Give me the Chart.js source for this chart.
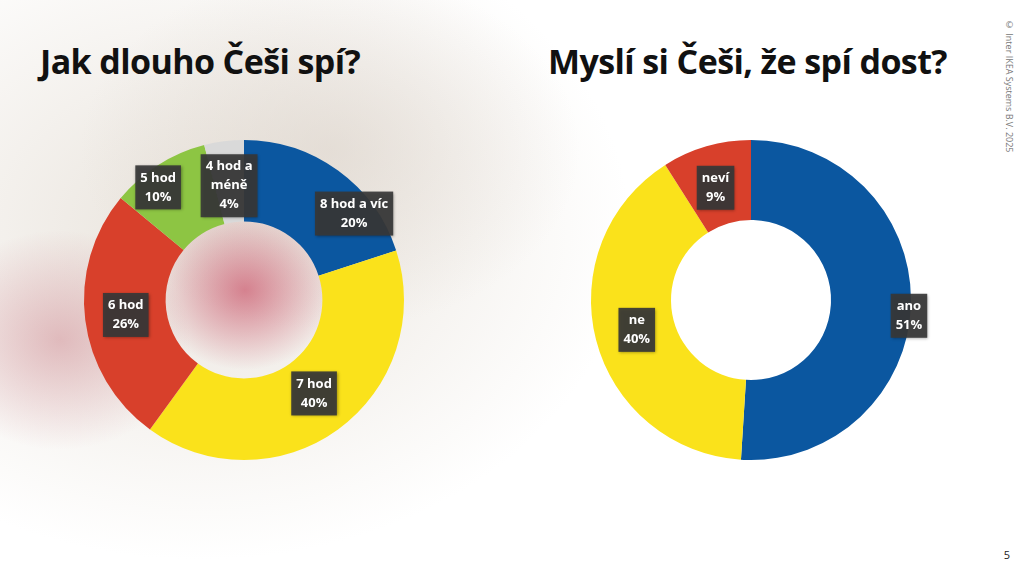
<!DOCTYPE html>
<html><head><meta charset="utf-8">
<script src="https://cdn.jsdelivr.net/npm/chart.js@4"></script>
<style>
body{margin:0;width:1024px;height:576px;overflow:hidden;font-family:"Open Sans",sans-serif;
background:
 radial-gradient(ellipse 90px 80px at 245px 290px, rgba(205,95,115,0.75), rgba(205,95,115,0) 100%),
 radial-gradient(ellipse 130px 110px at 60px 340px, rgba(200,120,130,0.45), rgba(200,120,130,0) 100%),
 radial-gradient(ellipse 250px 180px at 330px 150px, rgba(215,205,195,0.5), rgba(215,205,195,0) 100%),
 radial-gradient(ellipse 430px 330px at 200px 230px, rgba(232,226,218,0.95), rgba(245,243,240,0) 100%),
 #fff;}
.t{position:absolute;top:38px;font-weight:bold;font-size:34px;letter-spacing:-0.6px;color:#111;margin:0}
canvas{position:absolute}
#cp{position:absolute;right:8px;top:18px;writing-mode:vertical-rl;font-size:9px;color:#777}
#pg{position:absolute;right:14px;bottom:14px;font-size:11px;color:#222}
</style></head><body>
<h1 class="t" style="left:40px">Jak dlouho Češi spí?</h1>
<h1 class="t" style="left:548px">Myslí si Češi, že spí dost?</h1>
<div id="cp">© Inter IKEA Systems B.V. 2025</div>
<div id="pg">5</div>
<div style="position:absolute;left:54px;top:110px;width:380px;height:380px"><canvas id="c1"></canvas></div>
<div style="position:absolute;left:561px;top:110px;width:380px;height:380px"><canvas id="c2"></canvas></div>
<script>
// left chart
var sleepLabels = [["8 hod a víc"], ["7 hod"], ["6 hod"], ["5 hod"], ["4 hod a", "méně"]];
var sleepValues = [20, 40, 26, 10, 4];
var sleepColors = ['#0b57a0', '#fae21b', '#d8402b', '#8dc543', '#d9d9d9'];
var sleepShift = [[40, 10], [0, -3], [0, 0], [-22, -12], [0, 4]];
// right chart
var enoughLabels = [["ano"], ["ne"], ["neví"]];
var enoughValues = [51, 40, 9];
var enoughColors = ['#0b57a0', '#fae21b', '#d8402b'];
var enoughShift = [[38, 12], [2, 0], [-2, 3]];

var boxLabels = {
    id: 'boxLabels',
    afterDatasetsDraw: function (chart, args, opts) {
        var ctx = chart.ctx;
        var meta = chart.getDatasetMeta(0);
        meta.data.forEach(function (arc, i) {
            var p = arc.tooltipPosition();
            var x = p.x + opts.shift[i][0], y = p.y + opts.shift[i][1];
            var lines = opts.names[i].concat([chart.data.datasets[0].data[i] + '%']);
            ctx.font = 'bold 13px "Open Sans"';
            var w = 0;
            lines.forEach(function (l) { w = Math.max(w, ctx.measureText(l).width); });
            var lh = 19, h = lines.length * lh + 6;
            ctx.save();
            ctx.shadowColor = 'rgba(0,0,0,0.4)'; ctx.shadowBlur = 3; ctx.shadowOffsetX = 1; ctx.shadowOffsetY = 1;
            ctx.fillStyle = 'rgba(55,55,55,0.92)';
            ctx.fillRect(x - w / 2 - 5, y - h / 2, w + 10, h);
            ctx.restore();
            ctx.fillStyle = '#fff'; ctx.textAlign = 'center'; ctx.textBaseline = 'middle';
            lines.forEach(function (l, k) { ctx.fillText(l, x, y - h / 2 + 3 + lh / 2 + k * lh); });
        });
    }
};

function makeDonut(id, names, values, colors, shift, cut) {
    new Chart(document.getElementById(id), {
        type: 'doughnut',
        data: { labels: names.map(function (n) { return n.join(' '); }), datasets: [{ data: values, backgroundColor: colors, borderWidth: 0 }] },
        options: {
            responsive: true, maintainAspectRatio: false, animation: false, cutout: cut,
            layout: { padding: 30 },
            plugins: { legend: { display: false }, tooltip: { enabled: false }, boxLabels: { names: names, shift: shift } }
        },
        plugins: [boxLabels]
    });
}
makeDonut('c1', sleepLabels, sleepValues, sleepColors, sleepShift, '49%');
makeDonut('c2', enoughLabels, enoughValues, enoughColors, enoughShift, '50%');
</script>
</body></html>
